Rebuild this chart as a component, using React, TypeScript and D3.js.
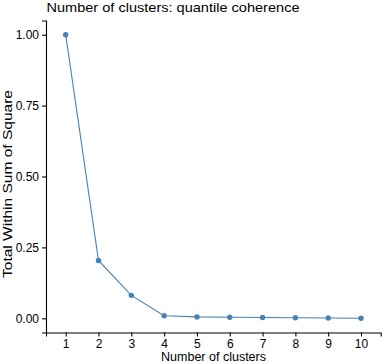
import React, { useEffect, useRef } from 'react';
import * as d3 from 'd3';

const clusters = [1, 2, 3, 4, 5, 6, 7, 8, 9, 10];
const wss = [1.0, 0.204, 0.081, 0.009, 0.005, 0.004, 0.003, 0.002, 0.001, 0.0];
const yTicks = [0, 0.25, 0.5, 0.75, 1.0];

const W = 382;
const H = 363;

const App = () => {
	const ref = useRef<SVGSVGElement>(null);

	useEffect(() => {
		const svg = d3.select(ref.current);
		svg.selectAll('*').remove();

		const m = { t: 20.5, r: 1.3, b: 30.5, l: 46 };
		const x = d3.scaleLinear().domain([0.4, 10.6]).range([m.l, W - m.r]);
		const y = d3.scaleLinear().domain([-0.05, 1.05]).range([H - m.b, m.t]);
		const font = 'Liberation Sans, Arial, sans-serif';
		const col = '#4682B4';

		// axes
		const xg = svg
			.append('g')
			.attr('transform', `translate(0,${H - m.b})`)
			.call(d3.axisBottom(x).tickValues(clusters).tickSizeOuter(0).tickSize(4).tickPadding(3).tickFormat(d3.format('d')));
		const yg = svg
			.append('g')
			.attr('transform', `translate(${m.l},0)`)
			.call(d3.axisLeft(y).tickValues(yTicks).tickSizeOuter(0).tickSize(4).tickPadding(3).tickFormat(d3.format('.2f')));

		[xg, yg].forEach(g => {
			g.select('.domain').attr('stroke', '#000').attr('stroke-width', 1.1);
			g.selectAll('.tick line').attr('stroke', '#000').attr('stroke-width', 1.1);
			g.selectAll('.tick text').attr('fill', '#000').style('font-family', font).style('font-size', '12px');
		});

		// line + points
		const pts = clusters.map((c, i) => [c, wss[i]] as [number, number]);
		svg.append('path')
			.datum(pts)
			.attr('fill', 'none')
			.attr('stroke', col)
			.attr('stroke-width', 1.1)
			.attr('d', d3.line().x(d => x(d[0])).y(d => y(d[1])));

		svg.selectAll('circle.pt')
			.data(pts)
			.join('circle')
			.attr('class', 'pt')
			.attr('cx', d => x(d[0]))
			.attr('cy', d => y(d[1]))
			.attr('r', 2.7)
			.attr('fill', col);

		// titles
		svg.append('text')
			.attr('x', m.l + 0.5)
			.attr('y', 11.5)
			.attr('fill', '#000')
			.attr('textLength', 253)
			.attr('lengthAdjust', 'spacingAndGlyphs')
			.style('font-family', font)
			.style('font-size', '13px')
			.text('Number of clusters: quantile coherence');

		svg.append('text')
			.attr('x', 213.5)
			.attr('y', 360.5)
			.attr('text-anchor', 'middle')
			.attr('fill', '#000')
			.attr('textLength', 105)
			.attr('lengthAdjust', 'spacingAndGlyphs')
			.style('font-family', font)
			.style('font-size', '12px')
			.text('Number of clusters');

		svg.append('text')
			.attr('transform', `translate(11.5,184) rotate(-90)`)
			.attr('text-anchor', 'middle')
			.attr('fill', '#000')
			.attr('textLength', 188)
			.attr('lengthAdjust', 'spacingAndGlyphs')
			.style('font-family', font)
			.style('font-size', '12.5px')
			.text('Total Within Sum of Square');
	}, []);

	return (
		<svg ref={ref} width={W} height={H} style={{ position: 'absolute', left: 0, top: 0, background: '#fff' }} />
	);
};

export default App;
